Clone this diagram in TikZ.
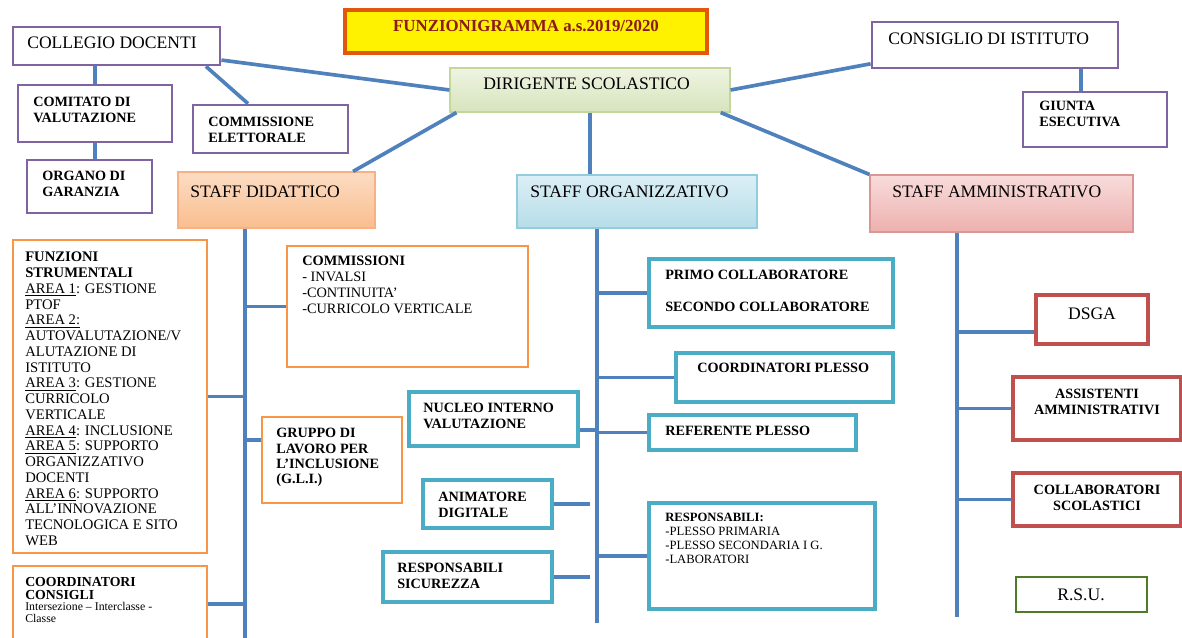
\documentclass[tikz,border=0pt]{standalone}
\usepackage{fontspec}
\setmainfont{Liberation Serif}
\usetikzlibrary{fit}
\definecolor{lineblue}{HTML}{4F81BD}
\definecolor{purp}{HTML}{8064A2}
\definecolor{orng}{HTML}{F79646}
\definecolor{boxteal}{HTML}{4BACC6}
\definecolor{boxred}{HTML}{C0504D}
\definecolor{rsugreen}{HTML}{4F7A28}
\definecolor{titleorange}{HTML}{E4570A}
\definecolor{titlered}{HTML}{8B1A1A}
\definecolor{greentop}{HTML}{EEF4E2}
\definecolor{greenbot}{HTML}{D7E4BD}
\definecolor{greenedge}{HTML}{C3D69B}
\definecolor{orngtop}{HTML}{FCDCC4}
\definecolor{orngbot}{HTML}{F9BE8E}
\definecolor{orngedge}{HTML}{F9B183}
\definecolor{bluetop}{HTML}{DCEFF6}
\definecolor{bluebot}{HTML}{B6DDE8}
\definecolor{blueedge}{HTML}{93CDDD}
\definecolor{redtop}{HTML}{F8DCDB}
\definecolor{redbot}{HTML}{EDB0AE}
\definecolor{rededge}{HTML}{DA9694}

\begin{document}
\begin{tikzpicture}[x=0.025cm, y=-0.025cm,
  box/.style={inner sep=0pt, draw},
  collbox/.style={box, draw=purp, line width=2pt},
  didbox/.style={box, draw=orng, line width=2pt},
  orgbox/.style={box, draw=boxteal, line width=2.4pt},
  ammbox/.style={box, draw=boxred, line width=2.4pt},
  staffbox/.style={box, line width=0.8pt},
  bigtxt/.style={inner sep=0pt, anchor=north west, font=\fontsize{12.5}{15}\selectfont},
  boldtxt/.style={inner sep=0pt, anchor=north west, align=left, font=\bfseries\fontsize{10.1}{10.9}\selectfont},
  listtxt/.style={inner sep=0pt, anchor=north west, align=left, font=\fontsize{10.4}{11.2}\selectfont},
  link/.style={draw=lineblue, line width=2.6pt}]
  \useasboundingbox[fill=white] (0,0) rectangle (1182,637);

  % top row
  \node[fit={(345,10) (707,53)}, box, fill=yellow, draw=titleorange, line width=3pt] (title) {};
  \node[inner sep=0pt, anchor=north, text=titlered, font=\bfseries\fontsize{12}{14}\selectfont] (title-t) at (526,20) {FUNZIONIGRAMMA a.s.2019/2020};

  \node[fit={(13,27) (220,65)}, collbox] (collegio) {};
  \node[bigtxt] (collegio-t) at (27,37) {COLLEGIO DOCENTI};
  \node[fit={(18,85) (172,142)}, collbox] (comitato) {};
  \node[boldtxt] (comitato-t) at (33,97) {COMITATO DI\\VALUTAZIONE};
  \node[fit={(27,160) (152,213)}, collbox] (organo) {};
  \node[boldtxt] (organo-t) at (42,171) {ORGANO DI\\GARANZIA};
  \node[fit={(193,105) (348,153)}, collbox] (elettorale) {};
  \node[boldtxt] (elettorale-t) at (208,117) {COMMISSIONE\\ELETTORALE};

  \node[fit={(450,68) (730,112)}, staffbox, draw=greenedge, top color=greentop, bottom color=greenbot] (dirigente) {};
  \node[bigtxt] (dirigente-t) at (483,78) {DIRIGENTE SCOLASTICO};

  \node[fit={(872,22) (1118,68)}, collbox] (consiglio) {};
  \node[bigtxt] (consiglio-t) at (888,33) {CONSIGLIO DI ISTITUTO};
  \node[fit={(1023,92) (1167,147)}, collbox] (giunta) {};
  \node[boldtxt] (giunta-t) at (1039,101) {GIUNTA\\ESECUTIVA};

  % staff
  \node[fit={(178,172) (375,228)}, staffbox, draw=orngedge, top color=orngtop, bottom color=orngbot] (didattico) {};
  \node[bigtxt] (didattico-t) at (190,186) {STAFF DIDATTICO};
  \node[fit={(517,175) (757,228)}, staffbox, draw=blueedge, top color=bluetop, bottom color=bluebot] (organizzativo) {};
  \node[bigtxt] (organizzativo-t) at (530,186) {STAFF ORGANIZZATIVO};
  \node[fit={(870,175) (1133,232)}, staffbox, draw=rededge, top color=redtop, bottom color=redbot] (amministrativo) {};
  \node[bigtxt] (amministrativo-t) at (892,186) {STAFF AMMINISTRATIVO};

  % staff didattico
  \node[fit={(13,240) (207,553)}, didbox] (funzioni) {};
  \node[listtxt] (funzioni-t) at (25,252) {\textbf{FUNZIONI}\\\textbf{STRUMENTALI}\\\underline{AREA 1}: GESTIONE\\PTOF\\\underline{AREA 2:}\\AUTOVALUTAZIONE/V\\ALUTAZIONE DI\\ISTITUTO\\\underline{AREA 3}: GESTIONE\\CURRICOLO\\VERTICALE\\\underline{AREA 4}: INCLUSIONE\\\underline{AREA 5}: SUPPORTO\\ORGANIZZATIVO\\DOCENTI\\\underline{AREA 6}: SUPPORTO\\ALL’INNOVAZIONE\\TECNOLOGICA E SITO\\WEB};
  \node[fit={(13,566) (207,642)}, didbox] (coordcons) {};
  \node[boldtxt, font=\bfseries\fontsize{9.8}{9}\selectfont] (coordcons-t) at (25,577) {COORDINATORI\\CONSIGLI};
  \node[inner sep=0pt, anchor=north west, align=left, font=\fontsize{8.4}{8.8}\selectfont] (coordcons-s) at (25,602) {Intersezione – Interclasse -\\Classe};
  \node[fit={(287,246) (528,367)}, didbox] (commissioni) {};
  \node[listtxt, font=\fontsize{10.2}{11.2}\selectfont] (commissioni-t) at (302,256) {\textbf{COMMISSIONI}\\- INVALSI\\-CONTINUITA’\\-CURRICOLO VERTICALE};
  \node[fit={(262,417) (402,503)}, didbox] (gruppo) {};
  \node[boldtxt] (gruppo-t) at (276,428) {GRUPPO DI\\LAVORO PER\\L’INCLUSIONE\\(G.L.I.)};

  % staff organizzativo
  \node[fit={(409,392) (578,446)}, orgbox] (nucleo) {};
  \node[boldtxt] (nucleo-t) at (423,403) {NUCLEO INTERNO\\VALUTAZIONE};
  \node[fit={(423,480) (552,528)}, orgbox] (animatore) {};
  \node[boldtxt] (animatore-t) at (438,492) {ANIMATORE\\DIGITALE};
  \node[fit={(383,552) (552,602)}, orgbox] (sicurezza) {};
  \node[boldtxt] (sicurezza-t) at (397,563) {RESPONSABILI\\SICUREZZA};
  \node[fit={(649,259) (893,327)}, orgbox] (collaboratori) {};
  \node[boldtxt] (collaboratori-t) at (665,270) {PRIMO COLLABORATORE\\[11.8pt]SECONDO COLLABORATORE};
  \node[fit={(676,353) (893,402)}, orgbox] (coordplesso) {};
  \node[boldtxt] (coordplesso-t) at (697,363) {COORDINATORI PLESSO};
  \node[fit={(649,415) (856,450)}, orgbox] (referente) {};
  \node[boldtxt] (referente-t) at (665,426) {REFERENTE PLESSO};
  \node[fit={(649,503) (875,609)}, orgbox] (responsabili) {};
  \node[listtxt, font=\fontsize{9}{9.8}\selectfont] (responsabili-t) at (665,513) {\textbf{RESPONSABILI:}\\-PLESSO PRIMARIA\\-PLESSO SECONDARIA I G.\\-LABORATORI};

  % staff amministrativo
  \node[fit={(1036,295) (1148,344)}, ammbox] (dsga) {};
  \node[bigtxt, anchor=north] (dsga-t) at (1092,308) {DSGA};
  \node[fit={(1013,377) (1181,440)}, ammbox] (assistenti) {};
  \node[boldtxt, anchor=north, align=center] (assistenti-t) at (1097,389) {ASSISTENTI\\AMMINISTRATIVI};
  \node[fit={(1013,473) (1181,526)}, ammbox] (collscol) {};
  \node[boldtxt, anchor=north, align=center] (collscol-t) at (1097,485) {COLLABORATORI\\SCOLASTICI};
  \node[fit={(1016,577) (1147,612)}, box, draw=rsugreen, line width=0.8pt] (rsu) {};
  \node[bigtxt, anchor=north] (rsu-t) at (1081,589) {R.S.U.};

  \coordinate (didbot) at (245,642);
  \coordinate (orgbot) at (597,623);
  \coordinate (ammbot) at (957,617);

  % connectors
  \path[link] ([yshift=-10pt]collegio.east) -- (dirigente.west);
  \path[link] (comitato.north) -- (comitato.north |- collegio.south);
  \path[link] (comitato.south) -- (comitato.south |- organo.north);
  \path[link] ([xshift=-11pt]collegio.south east) -- ([xshift=-16pt]elettorale.north);
  \path[link] (dirigente.east) -- ([yshift=4pt]consiglio.south west);
  \path[link] ([xshift=-10pt]giunta.north) -- ([xshift=-10pt]giunta.north |- consiglio.south);
  \path[link] ([xshift=5pt]dirigente.south west) -- ([xshift=-16pt]didattico.north east);
  \path[link] (dirigente.south) -- (dirigente.south |- organizzativo.north);
  \path[link] ([xshift=-7pt]dirigente.south east) -- (amministrativo.north west);

  \path[link] (didbot |- didattico.south) -- (didbot);
  \path[link] (orgbot |- organizzativo.south) -- (orgbot);
  \path[link] (ammbot |- amministrativo.south) -- (ammbot);

  \path[link] (funzioni.east) -- (funzioni.east -| didbot);
  \path[link] (coordcons.east) -- (coordcons.east -| didbot);
  \path[link] (commissioni.west) -- (commissioni.west -| didbot);
  \path[link] ([yshift=14pt]gruppo.west) -- ([yshift=14pt]gruppo.west -| didbot);

  \path[link] ([yshift=-8pt]nucleo.east) -- ([yshift=-8pt]nucleo.east -| orgbot);
  \path[link] (animatore.east) -- ([xshift=-5pt]animatore.east -| orgbot);
  \path[link] (sicurezza.east) -- ([xshift=-5pt]sicurezza.east -| orgbot);
  \path[link] (collaboratori.west) -- (collaboratori.west -| orgbot);
  \path[link] (coordplesso.west) -- (coordplesso.west -| orgbot);
  \path[link] (referente.west) -- (referente.west -| orgbot);
  \path[link] (responsabili.west) -- (responsabili.west -| orgbot);

  \path[link] ([yshift=-9pt]dsga.west) -- ([yshift=-9pt]dsga.west -| ammbot);
  \path[link] (assistenti.west) -- (assistenti.west -| ammbot);
  \path[link] (collscol.west) -- (collscol.west -| ammbot);
\end{tikzpicture}
\end{document}
